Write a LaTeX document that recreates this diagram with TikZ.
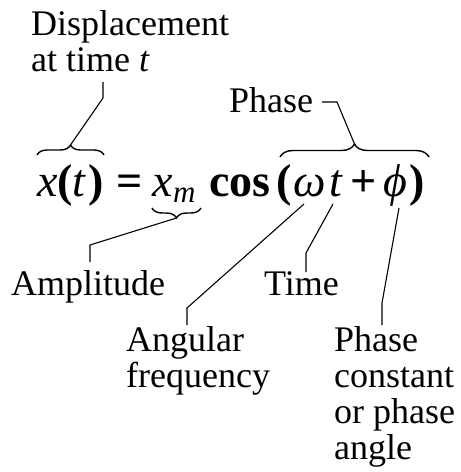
\documentclass[tikz,border=0pt]{standalone}
\usepackage{fontspec}
\setmainfont{Liberation Serif}
\usetikzlibrary{decorations.pathreplacing}
\begin{document}
\begin{tikzpicture}[x=1pt,y=-1pt,
  lbl/.style={anchor=base west,inner sep=0pt,font=\fontsize{36}{36}\selectfont},
  eqn/.style={anchor=base west,inner sep=0pt,font=\fontsize{46}{50}\selectfont},
  subs/.style={anchor=base west,inner sep=0pt,font=\fontsize{31}{32}\selectfont\itshape},
  lead/.style={draw=black,line width=1.1pt},
  brc/.style={draw=black,decorate,decoration={brace,amplitude=#1},line width=1.4pt}]
\useasboundingbox (0,0) rectangle (461,472);
% labels
\node[lbl] (disp1) at (31,35) {Displacement};
\node[lbl] (disp2) at (31,71) {at time \textit{t}};
\node[lbl] (phase) at (229,112) {Phase};
\node[lbl] (ampl) at (11,295) {Amplitude};
\node[lbl] (time) at (264,295) {Time};
\node[lbl] (ang1) at (126,351) {Angular};
\node[lbl] (ang2) at (126,387) {frequency};
\node[lbl] (pc1) at (334,351) {Phase};
\node[lbl] (pc2) at (334,387) {constant};
\node[lbl] (pc3) at (334,423) {or phase};
\node[lbl] (pc4) at (334,459) {angle};
% equation
\node[eqn] (xt) at (37,196) {\textit{x}\textbf{(}\textit{t}\kern2pt\textbf{)}};
\node[eqn] (eq) at (116,196) {\textbf{=}};
\node[eqn] (xm) at (152,196) {\textit{x}};
\node[subs] (m) at (173,202) {m};
\node[eqn] (cos) at (209,196) {\textbf{cos}};
\node[eqn] (lp2) at (276,196) {\textbf{(}};
\node[eqn] (om) at (293,196) {\textit{ω}};
\node[eqn] (t2) at (329,196) {\textit{t}};
\node[eqn] (plus) at (350,196) {\textbf{+}};
\node[eqn] (phi) at (383,196) {\textit{ϕ}};
\node[eqn] (rp2) at (409,196) {\textbf{)}};
% braces
\coordinate (b1l) at (37,155);
\coordinate (b1r) at (104,155);
\draw[brc=10pt] (b1l) -- (b1r);
\coordinate (b2l) at (280,157);
\coordinate (b2r) at (429,157);
\draw[brc=13pt] (b2l) -- (b2r);
\coordinate (b3r) at (201,208);
\coordinate (b3l) at (152,208);
\draw[brc=10pt] (b3r) -- (b3l);
% tips and bends
\coordinate (t1) at (70.5,145);
\coordinate (k1) at (103,98);
\coordinate (e1) at (103,82);
\draw[lead] (t1) -- (k1) -- (e1);
\coordinate (t2c) at (354.5,144);
\coordinate (k2) at (337,102);
\coordinate (e2) at (322,102);
\draw[lead] (t2c) -- (k2) -- (e2);
\coordinate (t3) at (176.5,218);
\coordinate (k3) at (90,245);
\coordinate (e3) at (90,262);
\draw[lead] (t3) -- (k3) -- (e3);
\coordinate (s4) at (304,204);
\coordinate (k4) at (187,308);
\coordinate (e4) at (187,325);
\draw[lead] (s4) -- (k4) -- (e4);
\coordinate (s5) at (333,204);
\coordinate (k5) at (306,253);
\coordinate (e5) at (306,272);
\draw[lead] (s5) -- (k5) -- (e5);
\coordinate (s6) at (399,208);
\coordinate (k6) at (382,303);
\coordinate (e6) at (382,325);
\draw[lead] (s6) -- (k6) -- (e6);
\end{tikzpicture}
\end{document}
